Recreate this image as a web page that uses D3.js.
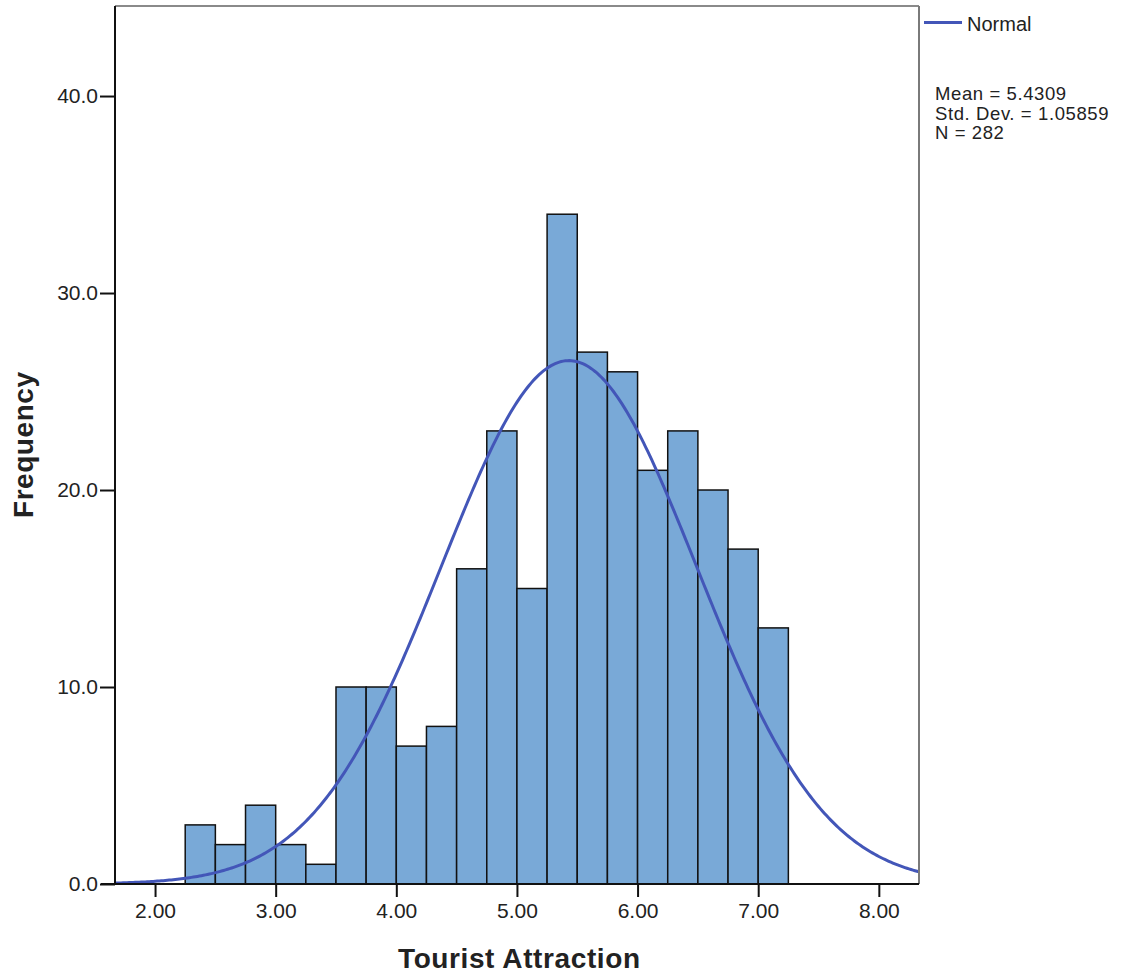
<!DOCTYPE html>
<html>
<head>
<meta charset="utf-8">
<script src="https://cdn.jsdelivr.net/npm/d3@7"></script>
<style>
  html, body { margin: 0; padding: 0; background: #fff; }
  svg { display: block; }
  text { font-family: "Liberation Sans", Arial, sans-serif; fill: #222; }
</style>
</head>
<body>
<svg id="chart" width="1131" height="975"></svg>
<script>
// Histogram of Tourist Attraction scores (bin width 0.25)
const binStarts = [2.25, 2.50, 2.75, 3.00, 3.25, 3.50, 3.75, 4.00, 4.25, 4.50,
                   4.75, 5.00, 5.25, 5.50, 5.75, 6.00, 6.25, 6.50, 6.75, 7.00];
const binCounts = [3, 2, 4, 2, 1, 10, 10, 7, 8, 16,
                   23, 15, 34, 27, 26, 21, 23, 20, 17, 13];
const binWidth = 0.25;

const xTicks = [2, 3, 4, 5, 6, 7, 8];
const yTicks = [0, 10, 20, 30, 40];

// Summary statistics shown beside the plot
const mean = 5.4309;
const stdDev = 1.05859;
const nObs = 282;

const svg = d3.select("#chart");
const plot = { left: 115, top: 6, right: 919, bottom: 884 };

const x = d3.scaleLinear().domain([1.668, 8.333]).range([plot.left, plot.right]);
const y = d3.scaleLinear().domain([0, 44.57]).range([plot.bottom, plot.top]);

// Bars
svg.append("g").selectAll("rect")
  .data(binStarts.map((s, i) => ({ s, c: binCounts[i] })))
  .join("rect")
  .attr("x", d => x(d.s))
  .attr("y", d => y(d.c))
  .attr("width", d => x(d.s + binWidth) - x(d.s))
  .attr("height", d => y(0) - y(d.c))
  .attr("fill", "#79a9d7")
  .attr("stroke", "#111")
  .attr("stroke-width", 1.5);

// Fitted normal curve scaled to counts
const scale = nObs * binWidth;
const curveXs = d3.range(0, 401).map(i => 1.668 + (8.333 - 1.668) * i / 400);
const pdf = v => Math.exp(-0.5 * ((v - mean) / stdDev) ** 2) / (stdDev * Math.sqrt(2 * Math.PI));
svg.append("path")
  .datum(curveXs)
  .attr("fill", "none")
  .attr("stroke", "#4356b8")
  .attr("stroke-width", 3)
  .attr("d", d3.line().x(v => x(v)).y(v => y(scale * pdf(v))));

// Frame: top and right in gray
svg.append("line").attr("x1", plot.left).attr("x2", plot.right)
  .attr("y1", plot.top).attr("y2", plot.top)
  .attr("stroke", "#8a8a8a").attr("stroke-width", 2);
svg.append("line").attr("x1", plot.right).attr("x2", plot.right)
  .attr("y1", plot.top).attr("y2", plot.bottom)
  .attr("stroke", "#7a7a7a").attr("stroke-width", 2);

// Axes
const xAxis = d3.axisBottom(x).tickValues(xTicks).tickFormat(d3.format(".2f"))
  .tickSize(13).tickSizeOuter(0).tickPadding(6);
const gx = svg.append("g").attr("transform", `translate(0,${plot.bottom})`).call(xAxis);
const yAxis = d3.axisLeft(y).tickValues(yTicks).tickFormat(d3.format(".1f"))
  .tickSize(15).tickSizeOuter(0).tickPadding(2);
const gy = svg.append("g").attr("transform", `translate(${plot.left},0)`).call(yAxis);

[gx, gy].forEach(g => {
  g.select(".domain").attr("stroke", "#111").attr("stroke-width", 2);
  g.selectAll(".tick line").attr("stroke", "#111").attr("stroke-width", 2);
  g.selectAll(".tick text").attr("font-family", "Liberation Sans, Arial, sans-serif")
    .attr("font-size", 21).attr("fill", "#222");
});
gx.select(".domain").attr("d", `M${plot.left - 14},0H${plot.right}`);
gy.select(".domain").attr("d", `M0,${plot.top}V${plot.bottom}`);

// Axis titles
svg.append("text")
  .attr("x", 519).attr("y", 968)
  .attr("text-anchor", "middle")
  .attr("font-size", 28).attr("font-weight", "bold")
  .attr("fill", "#111")
  .attr("textLength", 242)
  .text("Tourist Attraction");

svg.append("text")
  .attr("transform", "translate(33,445) rotate(-90)")
  .attr("text-anchor", "middle")
  .attr("font-size", 28).attr("font-weight", "bold")
  .attr("fill", "#111")
  .attr("textLength", 146)
  .text("Frequency");

// Legend
svg.append("line").attr("x1", 924).attr("x2", 962).attr("y1", 22.5).attr("y2", 22.5)
  .attr("stroke", "#4356b8").attr("stroke-width", 3);
svg.append("text").attr("x", 967).attr("y", 31).attr("font-size", 20).text("Normal");

const stats = [`Mean = ${mean}`, `Std. Dev. = ${stdDev}`, `N = ${nObs}`];
svg.append("g").selectAll("text").data(stats).join("text")
  .attr("x", 935).attr("y", (d, i) => 100 + i * 19.5)
  .attr("font-size", 18.5)
  .attr("letter-spacing", 0.6)
  .text(d => d);
</script>
</body>
</html>
